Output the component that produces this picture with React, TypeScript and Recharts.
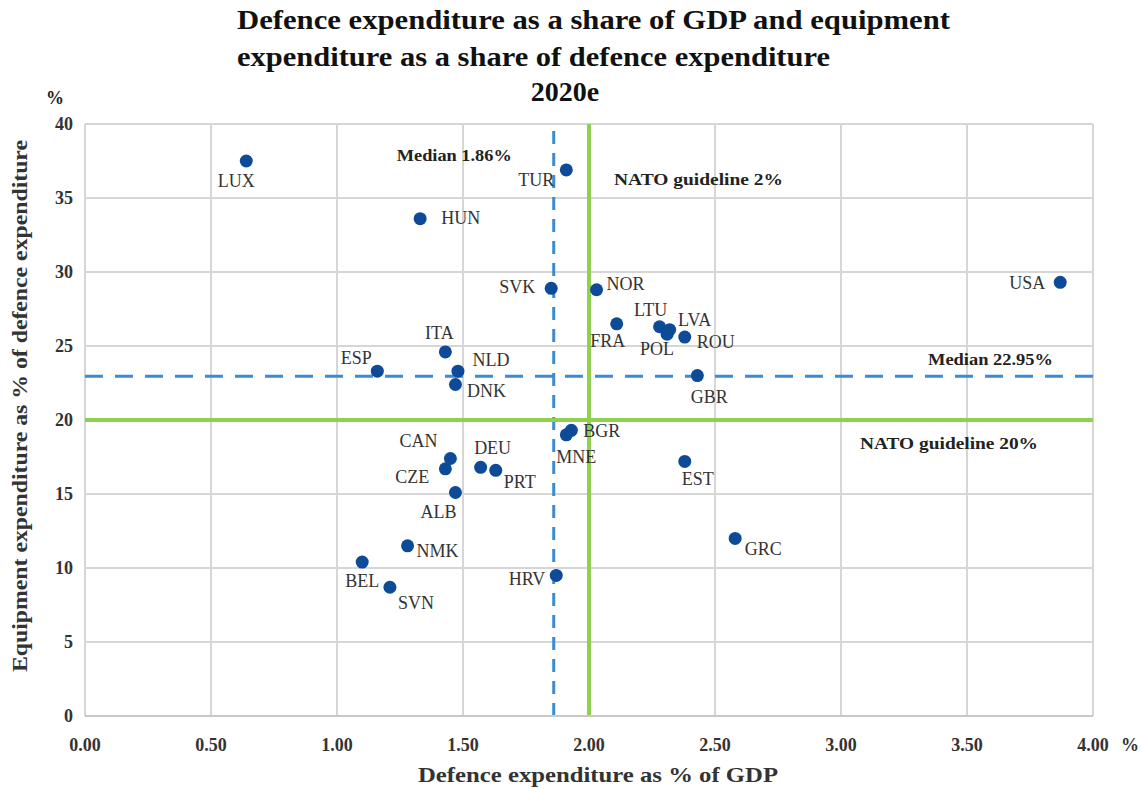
import React from "react";
import {
  ScatterChart,
  Scatter,
  XAxis,
  YAxis,
  CartesianGrid,
  ReferenceLine,
} from "recharts";

const countries = [
  "LUX", "TUR", "HUN", "SVK", "NOR", "USA", "FRA", "LTU", "LVA", "POL", "ROU",
  "GBR", "BGR", "MNE", "EST", "DEU", "PRT", "CAN", "CZE", "ALB", "NMK", "BEL",
  "SVN", "HRV", "GRC", "ITA", "ESP", "NLD", "DNK",
];
const gdpShare = [
  0.64, 1.91, 1.33, 1.85, 2.03, 3.87, 2.11, 2.28, 2.32, 2.31, 2.38,
  2.43, 1.93, 1.91, 2.38, 1.57, 1.63, 1.45, 1.43, 1.47, 1.28, 1.10,
  1.21, 1.87, 2.58, 1.43, 1.16, 1.48, 1.47,
];
const equipShare = [
  37.5, 36.9, 33.6, 28.9, 28.8, 29.3, 26.5, 26.3, 26.1, 25.8, 25.6,
  23.0, 19.3, 19.0, 17.2, 16.8, 16.6, 17.4, 16.7, 15.1, 11.5, 10.4,
  8.7, 9.5, 12.0, 24.6, 23.3, 23.3, 22.4,
];
const xTicks = [0, 0.5, 1, 1.5, 2, 2.5, 3, 3.5, 4];
const yTicks = [0, 5, 10, 15, 20, 25, 30, 35, 40];
const medianGdp = 1.86;
const medianEquip = 22.95;
const natoGdp = 2;
const natoEquip = 20;

// label placement (style): dx, dy, anchor
const labelPos: Record<string, [number, number, string]> = {
  LUX: [-10, 26, "middle"],
  TUR: [-30, 16, "middle"],
  HUN: [21, 5, "start"],
  SVK: [-16, 5, "end"],
  NOR: [10, 0, "start"],
  USA: [-15, 7, "end"],
  FRA: [-9, 23, "middle"],
  LTU: [-9, -11, "middle"],
  LVA: [25, -4, "middle"],
  POL: [-10, 21, "middle"],
  ROU: [12, 11, "start"],
  GBR: [12, 27, "middle"],
  BGR: [12, 7, "start"],
  MNE: [10, 28, "middle"],
  EST: [13, 24, "middle"],
  DEU: [12, -13, "middle"],
  PRT: [24, 18, "middle"],
  CAN: [-32, -11, "middle"],
  CZE: [-33, 14, "middle"],
  ALB: [-17, 25, "middle"],
  NMK: [9, 11, "start"],
  BEL: [0, 25, "middle"],
  SVN: [26, 22, "middle"],
  HRV: [-11, 10, "end"],
  GRC: [28, 17, "middle"],
  ITA: [-6, -13, "middle"],
  ESP: [-21, -7, "middle"],
  NLD: [33, -5, "middle"],
  DNK: [31, 13, "middle"],
};

const data = countries.map((c, i) => ({ code: c, x: gdpShare[i], y: equipShare[i] }));

const FONT = "Liberation Serif";
const BLUE = "#3b8bd3";
const GREEN = "#8fd14f";
const DOT = "#0d4a98";

const Dot = (props: any) => {
  const { cx, cy, payload } = props;
  const p = labelPos[payload.code] || [0, 20, "middle"];
  return (
    <g>
      <circle cx={cx} cy={cy} r={6.5} fill={DOT} />
      <text
        x={cx + p[0]}
        y={cy + p[1]}
        textAnchor={p[2] as any}
        style={{ fontFamily: FONT, fontSize: 18 }}
        fill="#333"
      >
        {payload.code}
      </text>
    </g>
  );
};

const boldText = (x: number, y: number, s: string, len: number) => (
  <text
    x={x}
    y={y}
    textLength={len}
    lengthAdjust="spacingAndGlyphs"
    style={{ fontFamily: FONT, fontSize: 17, fontWeight: "bold" }}
    fill="#222"
  >
    {s}
  </text>
);

export default function App() {
  return (
    <div style={{ position: "absolute", left: 0, top: 0, width: 1142, height: 789, background: "#fff", fontFamily: FONT }}>
      <div style={{ position: "absolute", left: 0, top: 0 }}>
        <ScatterChart
          width={1142}
          height={789}
          margin={{ top: 124, right: 49, bottom: 43, left: 45 }}
        >
          <CartesianGrid stroke="#d6d6d6" strokeWidth={2} />
          <XAxis
            type="number"
            dataKey="x"
            domain={[0, 4]}
            ticks={xTicks}
            tickFormatter={(v: number) => v.toFixed(2)}
            axisLine={{ stroke: "#c8c8c8", strokeWidth: 2 }}
            tickLine={false}
            height={30}
            tick={{ fontFamily: FONT, fontSize: 18, fontWeight: "bold", fill: "#333", dy: 14 }}
          />
          <YAxis
            type="number"
            dataKey="y"
            domain={[0, 40]}
            ticks={yTicks}
            axisLine={false}
            tickLine={false}
            width={40}
            tick={{ fontFamily: FONT, fontSize: 18, fontWeight: "bold", fill: "#333", dx: -4 }}
          />
          <ReferenceLine
            x={medianGdp}
            stroke={BLUE}
            strokeWidth={3}
            strokeDasharray="13 9"
            label={(p: any) => boldText(p.viewBox.x - 157, p.viewBox.y + 37, "Median 1.86%", 115)}
          />
          <ReferenceLine
            y={medianEquip}
            stroke={BLUE}
            strokeWidth={3}
            strokeDasharray="18 12"
            label={(p: any) => boldText(p.viewBox.x + p.viewBox.width - 165, p.viewBox.y - 11, "Median 22.95%", 125)}
          />
          <ReferenceLine
            x={natoGdp}
            stroke={GREEN}
            strokeWidth={4}
            label={(p: any) => boldText(p.viewBox.x + 25, p.viewBox.y + 61, "NATO guideline 2%", 169)}
          />
          <ReferenceLine
            y={natoEquip}
            stroke={GREEN}
            strokeWidth={4}
            label={(p: any) => boldText(p.viewBox.x + 775, p.viewBox.y + 29, "NATO guideline 20%", 178)}
          />
          <Scatter data={data} shape={Dot} isAnimationActive={false} />
        </ScatterChart>
      </div>
      <svg width={1142} height={789} style={{ position: "absolute", left: 0, top: 0, pointerEvents: "none" }}>
        <text x={237} y={29} style={{ fontFamily: FONT, fontWeight: "bold", fontSize: 28 }} textLength={713} lengthAdjust="spacingAndGlyphs" fill="#111">
          Defence expenditure as a share of GDP and equipment
        </text>
        <text x={237} y={66} style={{ fontFamily: FONT, fontWeight: "bold", fontSize: 28 }} textLength={593} lengthAdjust="spacingAndGlyphs" fill="#111">
          expenditure as a share of defence expenditure
        </text>
        <text x={565} y={101} textAnchor="middle" style={{ fontFamily: FONT, fontWeight: "bold", fontSize: 28 }} fill="#111">
          2020e
        </text>
        <text x={55} y={104} textAnchor="middle" style={{ fontFamily: FONT, fontWeight: "bold", fontSize: 18 }} fill="#222">
          %
        </text>
        <text x={1130} y={751} textAnchor="middle" style={{ fontFamily: FONT, fontSize: 18, fontWeight: "bold" }} fill="#333">
          %
        </text>
        <text x={418} y={782} style={{ fontFamily: FONT, fontSize: 21, fontWeight: "bold" }} textLength={360} lengthAdjust="spacingAndGlyphs" fill="#333">
          Defence expenditure as % of GDP
        </text>
        <text
          x={0}
          y={0}
          transform="translate(27,672) rotate(-90)"
          style={{ fontFamily: FONT, fontSize: 21, fontWeight: "bold" }}
          textLength={532}
          lengthAdjust="spacingAndGlyphs"
          fill="#333"
        >
          Equipment expenditure as % of defence expenditure
        </text>
      </svg>
    </div>
  );
}
